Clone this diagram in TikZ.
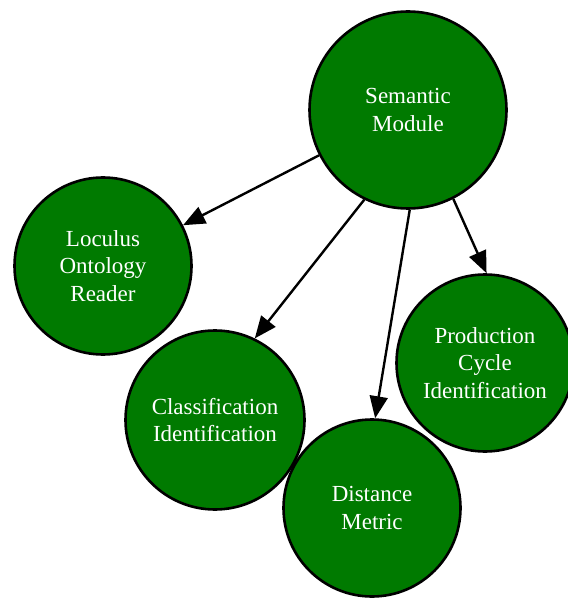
\documentclass[tikz,border=0pt]{standalone}
\usepackage{fontspec}
\setmainfont{Liberation Serif}
\usetikzlibrary{arrows.meta}
\definecolor{nodegreen}{RGB}{0,122,0}
\begin{document}
\begin{tikzpicture}[x=1pt,y=-1pt,
  topic/.style={circle, draw=black, line width=2.6pt, fill=nodegreen,
    text=white, align=center, inner sep=0pt,
    font=\fontsize{23}{27.5}\selectfont},
  link/.style={line width=2.4pt, -{Triangle[length=22pt,width=18pt]}}]
\useasboundingbox (0,0) rectangle (567,601);

% modules
\node[topic, minimum size=197pt] (sem)  at (408,110) {Semantic\\Module};
\node[topic, minimum size=177pt] (loc)  at (103,266) {Loculus\\Ontology\\Reader};
\node[topic, minimum size=179pt] (cls)  at (215,420) {Classification\\Identification};
\node[topic, minimum size=177pt] (dist) at (372,508) {Distance\\Metric};
\node[topic, minimum size=177pt] (prod) at (485,363) {Production\\Cycle\\Identification};

% dependencies
\draw[link] (sem.207) -- (loc.27);
\draw[link] (sem.244) -- (cls.64);
\draw[link] (sem.271) -- (dist.88);
\draw[link] (sem.297) -- (prod.89);
\end{tikzpicture}
\end{document}
